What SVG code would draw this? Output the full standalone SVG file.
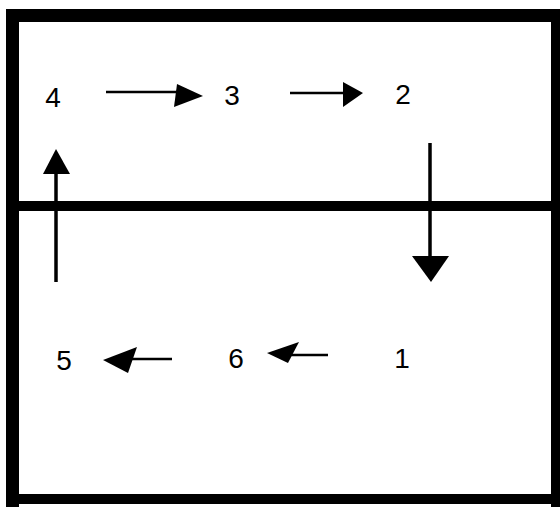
<svg xmlns="http://www.w3.org/2000/svg" width="560" height="507" viewBox="0 0 560 507">
<style>
.lbl{font-family:"Liberation Sans",Arial,sans-serif;font-size:28px;fill:#000;text-anchor:middle}
.ln{stroke:#000;stroke-width:2.5;fill:none}
.vln{stroke:#000;stroke-width:3.5;fill:none}
.hd{fill:#000;stroke:none}
.frame{fill:none;stroke:#000}
</style>
<rect width="560" height="507" fill="#fff"/>
<g id="frame">
<rect x="0" y="0" width="0" height="0" fill="none"/>
<path class="frame" stroke-width="13" d="M12.5,507 V15.5 H560"/>
<path class="frame" stroke-width="10" d="M556,11 V507"/>
<path class="frame" stroke-width="10" d="M6,499 H560"/>
<path class="frame" stroke-width="10" d="M19,206 H560"/>
</g>
<g id="node-4"><text class="lbl" x="53" y="107">4</text></g>
<g id="node-3"><text class="lbl" x="232" y="105">3</text></g>
<g id="node-2"><text class="lbl" x="403" y="104">2</text></g>
<g id="node-5"><text class="lbl" x="64" y="370">5</text></g>
<g id="node-6"><text class="lbl" x="236" y="368">6</text></g>
<g id="node-1"><text class="lbl" x="402" y="368">1</text></g>
<g id="connectors">
<line class="ln" x1="106" y1="92" x2="178" y2="92"/>
<polygon class="hd" points="177,84 203,96 174,107"/>
<line class="ln" x1="290" y1="93" x2="345" y2="93"/>
<polygon class="hd" points="343,82 363,93 343,107"/>
<line class="vln" x1="430" y1="143" x2="430" y2="258"/>
<polygon class="hd" points="412,256 449,256 431,282"/>
<line class="ln" x1="328" y1="355" x2="275" y2="355"/>
<polygon class="hd" points="299,342 288,363 267,353"/>
<line class="ln" x1="172" y1="359" x2="125" y2="359"/>
<polygon class="hd" points="137,347 128,373 103,360"/>
<line class="vln" x1="56" y1="282" x2="56" y2="171"/>
<polygon class="hd" points="43,174 70,174 56,149"/>
</g>
</svg>
